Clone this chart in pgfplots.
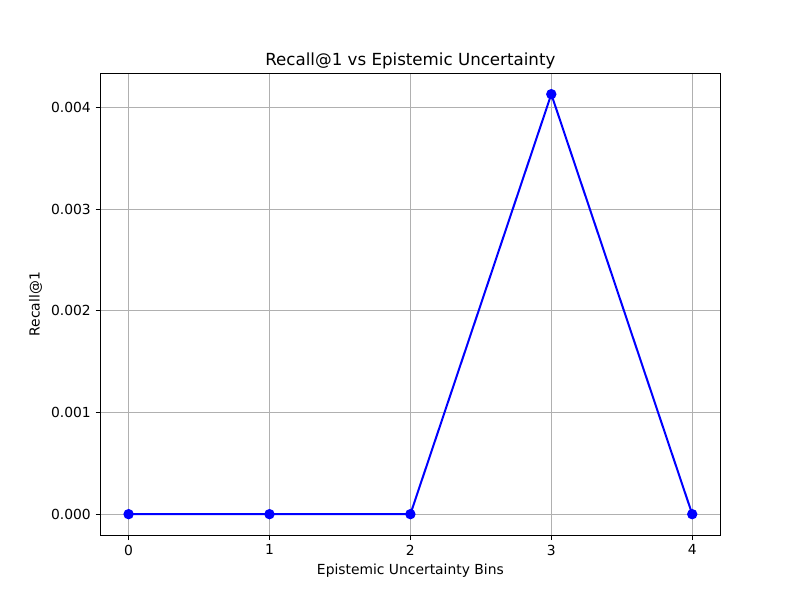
\documentclass[border=0pt]{standalone}
\usepackage{pgfplots}
\pgfplotsset{compat=1.18}
\usepackage{fontspec}
\setmainfont{DejaVu Sans}
\begin{document}
\begin{tikzpicture}[x=1pt,y=1pt]
\path[use as bounding box] (0,0) rectangle (600,450);
\begin{axis}[
  at={(71.25,63.75)}, anchor=south west,
  scale only axis, width=465pt, height=346.5pt,
  xmin=-0.2, xmax=4.2,
  ymin=-0.0002065, ymax=0.0043365,
  xtick={0,1,2,3,4},
  ytick={0,0.001,0.002,0.003,0.004},
  scaled y ticks=false,
  yticklabel style={/pgf/number format/fixed,/pgf/number format/precision=3,/pgf/number format/fixed zerofill},
  /pgf/number format/assume math mode=true,
  tick style={black, line width=0.6pt},
  tick align=outside, major tick length=3.65pt,
  xtick pos=bottom, ytick pos=left,
  grid=major,
  major grid style={color={rgb,255:red,176;green,176;blue,176}, line width=0.6pt},
  axis line style={line width=0.6pt},
  ticklabel style={font=\fontsize{10.4}{12}\selectfont},
  label style={font=\fontsize{10.4}{12}\selectfont},
  title style={font=\fontsize{12.5}{15}\selectfont, yshift=-6.25pt},
  title={Recall@1 vs Epistemic Uncertainty},
  xlabel={Epistemic Uncertainty Bins},
  ylabel={Recall@1},
]
\addplot[color=blue, line width=1.5pt, mark=*, mark size=3.1pt, mark options={fill=blue}] coordinates {
(0,0) (1,0) (2,0) (3,0.00413) (4,0)
};
\end{axis}
\end{tikzpicture}
\end{document}
